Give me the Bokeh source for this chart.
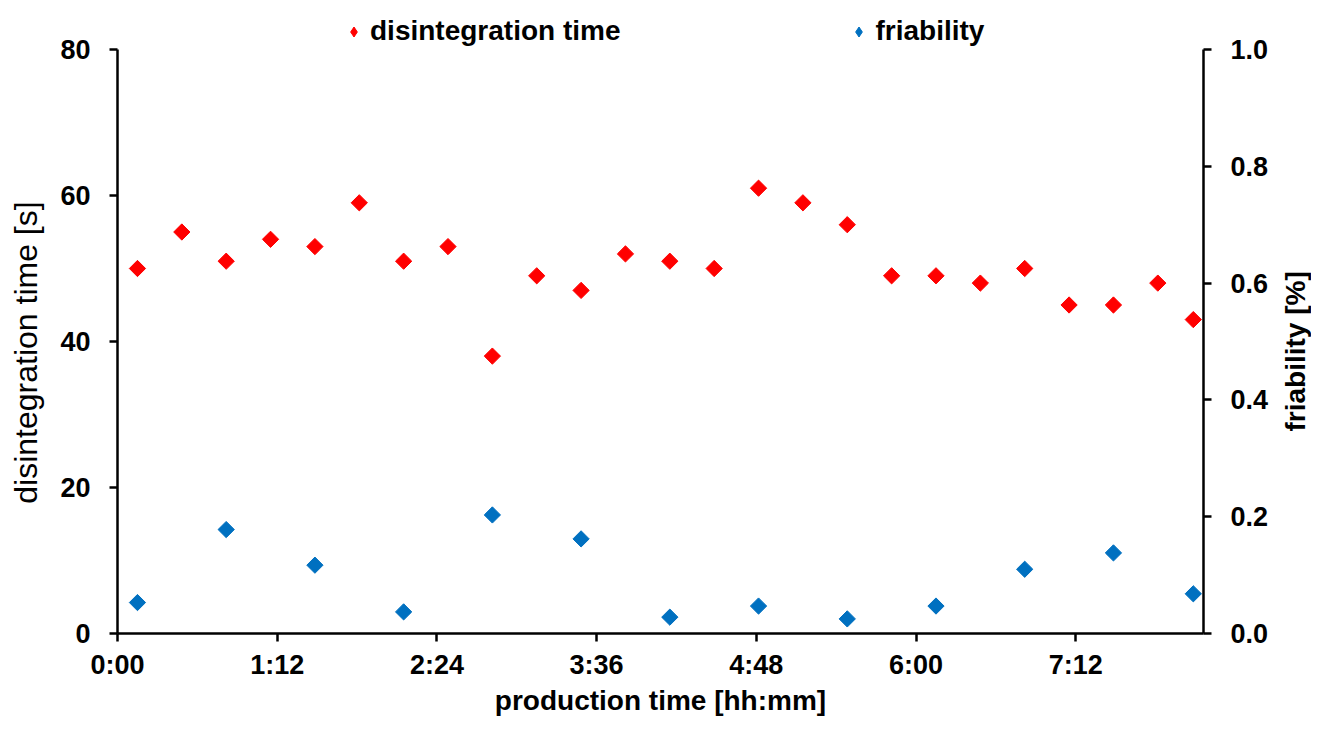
import math
from bokeh.plotting import figure
from bokeh.layouts import row
from bokeh.models import (Range1d, LinearAxis, FixedTicker, NumeralTickFormatter,
                          Legend, LegendItem, Label)
from bokeh.embed import file_html
from bokeh.resources import INLINE

# ---- data (minutes since production start) ----
dis_time_min = [9, 29, 49, 69, 89, 109, 129, 149, 169, 189, 209, 229, 249,
                269, 289, 309, 329, 349, 369, 389, 409, 429, 449, 469, 485]
disintegration_s = [50, 55, 51, 54, 53, 59, 51, 53, 38, 49, 47, 52, 51,
                    50, 61, 59, 56, 49, 49, 48, 50, 45, 45, 48, 43]
fri_time_min = [9, 49, 89, 129, 169, 209, 249, 289, 329, 369, 409, 449, 485]
friability_pct = [0.053, 0.178, 0.117, 0.037, 0.203, 0.162, 0.028,
                  0.047, 0.025, 0.047, 0.110, 0.138, 0.068]

x_ticks = [0, 72, 144, 216, 288, 360, 432]
x_tick_labels = ["0:00", "1:12", "2:24", "3:36", "4:48", "6:00", "7:12"]
left_ticks = [0, 20, 40, 60, 80]
right_ticks = [0.0, 0.2, 0.4, 0.6, 0.8, 1.0]

FONT = "Liberation Sans"
RED = "#FF0000"
BLUE = "#0070C0"

# layout (pixels)
H = 718
W_MAIN = 1271
W_TITLE = 40
FRAME_L, FRAME_R, FRAME_B, TOP_80 = 117, 1205, 633, 49
# frame reaches the top edge so the legend can sit above the "80" line;
# the axes themselves are bounded to their real ranges
ymax = 80 * FRAME_B / (FRAME_B - TOP_80)

p = figure(width=W_MAIN, height=H, output_backend="svg", toolbar_location=None,
           title=None,
           x_range=Range1d(0, 489.6), y_range=Range1d(0, ymax),
           min_border_left=FRAME_L, min_border_right=W_MAIN - FRAME_R,
           min_border_top=0, min_border_bottom=H - FRAME_B)
p.extra_y_ranges = {"fri": Range1d(0, ymax / 80)}
p.outline_line_color = None
p.xgrid.grid_line_color = None
p.ygrid.grid_line_color = None
p.background_fill_color = "white"
p.border_fill_color = "white"

r_dis = p.scatter(dis_time_min, disintegration_s, marker="square", size=11.5,
                  angle=math.pi / 4, fill_color=RED, line_color=RED)
r_fri = p.scatter(fri_time_min, friability_pct, marker="square", size=11.5,
                  angle=math.pi / 4, fill_color=BLUE, line_color=BLUE,
                  y_range_name="fri")
# hidden twins used only for the legend swatches (diamond shape)
l_dis = p.scatter(dis_time_min, disintegration_s, marker="diamond",
                  fill_color=RED, line_color=RED, visible=False)
l_fri = p.scatter(fri_time_min, friability_pct, marker="diamond",
                  fill_color=BLUE, line_color=BLUE, y_range_name="fri",
                  visible=False)

def style_axis(ax):
    ax.axis_line_width = 2.5
    ax.axis_line_color = "black"
    ax.major_tick_line_width = 2.5
    ax.major_tick_line_color = "black"
    ax.major_tick_out = 8
    ax.major_tick_in = 0
    ax.minor_tick_line_color = None
    ax.major_label_text_font = FONT
    ax.major_label_text_font_size = "27px"
    ax.major_label_text_font_style = "bold"
    ax.major_label_text_color = "black"
    ax.axis_label_text_font = FONT
    ax.axis_label_text_color = "black"

xa = p.xaxis[0]
style_axis(xa)
xa.ticker = FixedTicker(ticks=x_ticks)
xa.major_label_overrides = {t: l for t, l in zip(x_ticks, x_tick_labels)}
xa.major_label_standoff = 8
xa.axis_label = "production time [hh:mm]"
xa.axis_label_text_font_size = "28px"
xa.axis_label_text_font_style = "bold"
xa.axis_label_standoff = 2

ya = p.yaxis[0]
style_axis(ya)
ya.bounds = (left_ticks[0], left_ticks[-1])
ya.ticker = FixedTicker(ticks=left_ticks)
ya.major_label_standoff = 19
# trailing no-break spaces shift the centred title down to the axis middle
ya.axis_label = "disintegration time [s]" + "\u00a0" * 8
ya.axis_label_text_font_size = "32px"
ya.axis_label_text_font_style = "normal"
ya.axis_label_standoff = 13

yr = LinearAxis(y_range_name="fri")
style_axis(yr)
yr.bounds = (right_ticks[0], right_ticks[-1])
yr.ticker = FixedTicker(ticks=right_ticks)
yr.formatter = NumeralTickFormatter(format="0.0")
yr.major_label_standoff = 19
p.add_layout(yr, "right")

legend = Legend(items=[LegendItem(label="disintegration time", renderers=[l_dis]),
                       LegendItem(label="friability", renderers=[l_fri])],
                orientation="horizontal", location=(224, FRAME_B - 31 - 16),
                padding=0, margin=0, spacing=226,
                glyph_width=25, glyph_height=25, label_height=28,
                label_standoff=4, border_line_color=None,
                background_fill_alpha=0,
                label_text_font=FONT, label_text_font_size="28px",
                label_text_font_style="bold", label_text_color="black")
p.add_layout(legend, "center")

# narrow strip to the right carrying the secondary axis title (bottom-to-top)
pt = figure(width=W_TITLE, height=H, output_backend="svg", toolbar_location=None,
            title=None,
            x_range=Range1d(0, W_TITLE), y_range=Range1d(0, H),
            min_border=0, outline_line_color=None)
pt.axis.visible = False
pt.grid.visible = False
pt.background_fill_color = "white"
pt.border_fill_color = "white"
pt.add_layout(Label(x=24, y=320, text="friability [%]", angle=math.pi / 2,
                    text_align="center", text_baseline="middle",
                    text_font=FONT, text_font_size="28px",
                    text_font_style="bold", text_color="black"))

layout = row(p, pt)
open("out.html", "w").write(file_html(layout, INLINE))
